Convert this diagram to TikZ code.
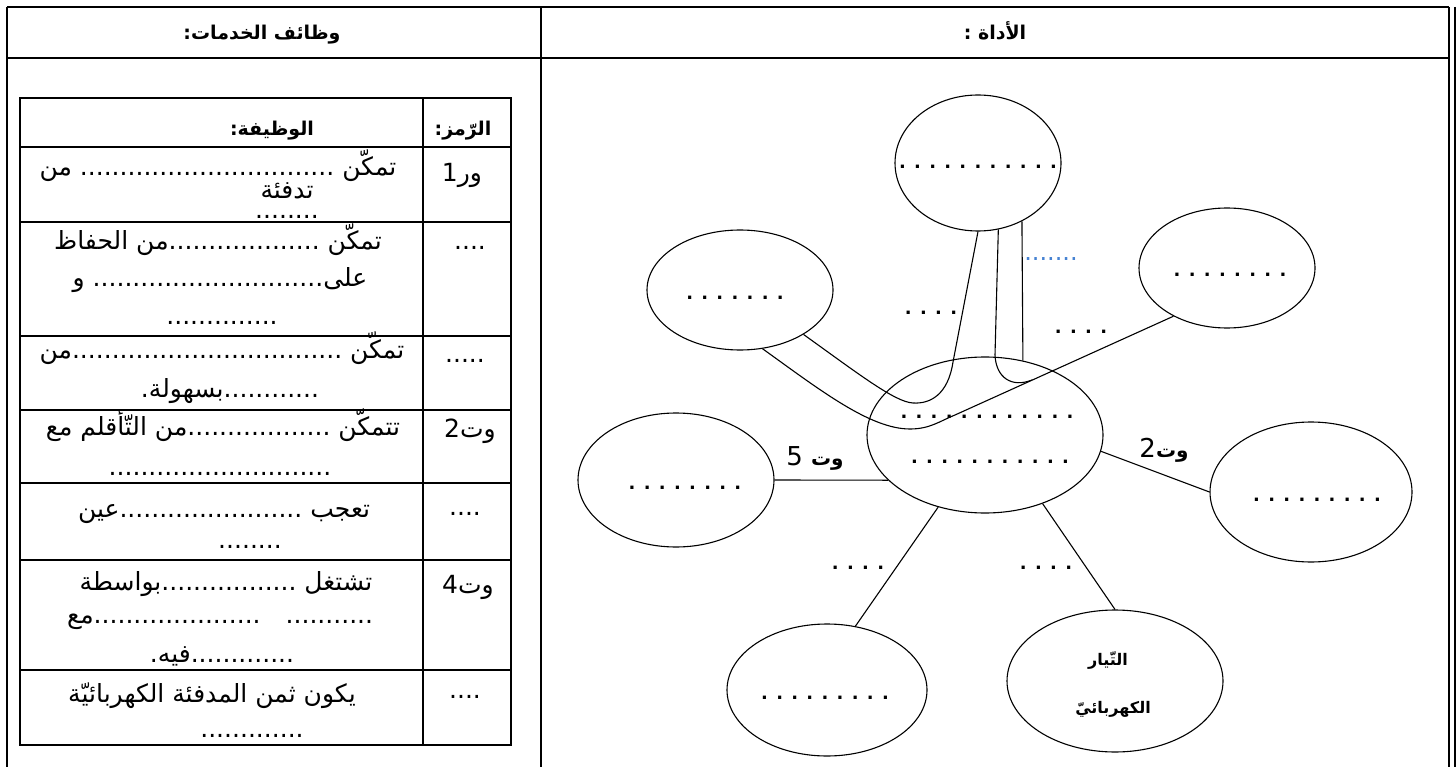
\documentclass[tikz,border=0pt]{standalone}
\usepackage{fontspec}
\usetikzlibrary{shapes.geometric}
\TeXXeTstate=1
\newfontfamily\arabicfont[Script=Arabic]{DejaVu Sans}
\definecolor{linkblue}{RGB}{70,130,210}

\begin{document}
\begin{tikzpicture}[x=1pt, y=-1pt,
    every node/.style={inner sep=0pt, anchor=base},
    rule/.style={line width=1.8pt},
    bub/.style={draw, ellipse, anchor=center, line width=1.1pt},
    wire/.style={line width=1.1pt},
    cell/.style={font=\arabicfont\fontsize{25}{29}\selectfont},
    head/.style={font=\arabicfont\bfseries\fontsize{19}{22}\selectfont},
    dotline/.style={font=\arabicfont\bfseries\fontsize{17.9}{22}\selectfont},
    lbl/.style={font=\arabicfont\fontsize{26}{30}\selectfont}]
        \useasboundingbox (0,0) rectangle (1456,767);
        % outer table
        \draw [rule] (7,7) -- (1449,7);
        \draw [rule] (7,58) -- (1449,58);
        \draw [rule] (7,7) -- (7,767);
        \draw [rule] (541,7) -- (541,767);
        \draw [rule] (1449,7) -- (1449,767);
        \draw [line width=1.4pt] (1455,7) -- (1455,767);
        \node [head] (hserv) at (262,40) {\beginR وظائف الخدمات\hbox{:}\endR};
        \node [head] (htool) at (995,40) {\beginR الأداة \hbox{:}\endR};
        % inner table
        \draw [rule] (20,98) rectangle (511,745);
        \draw [rule] (423,98) -- (423,745);
        \draw [rule] (20,147) -- (511,147);
        \draw [rule] (20,222) -- (511,222);
        \draw [rule] (20,336) -- (511,336);
        \draw [rule] (20,410) -- (511,410);
        \draw [rule] (20,483) -- (511,483);
        \draw [rule] (20,560) -- (511,560);
        \draw [rule] (20,670) -- (511,670);
        \node [head] (hfun) at (272,136) {\beginR\hbox{الوظيفة}\hbox{:}\endR};
        \node [head] (hcode) at (463,136) {\beginR\hbox{الرّمز}\hbox{:}\endR};
        \node [cell] (c1) at (462,182) {\beginR\hbox{ور}\hbox{1}\endR};
        \node [cell] (c2) at (470,250) {....};
        \node [cell] (c3) at (465,362) {.....};
        \node [cell] (c4) at (470,437) {\beginR\hbox{وت}\hbox{2}\endR};
        \node [cell] (c5) at (465,515) {....};
        \node [cell] (c6) at (468,593) {\beginR\hbox{وت}\hbox{4}\endR};
        \node [cell] (c7) at (465,698) {....};
        \node [cell] (r1a) at (218,176) {\beginR تمكّن \hbox{................................} من\endR};
        \node [cell, align=center, font=\arabicfont\fontsize{25}{20}\selectfont] (r1b) at (287,219) {تدفئة\\........};
        \node [cell] (r2a) at (218,250) {\beginR تمكّن \hbox{...................}من الحفاظ\endR};
        \node [cell] (r2b) at (220,287) {\beginR على\hbox{.............................} و\endR};
        \node [cell] (r2c) at (222,324) {..............};
        \node [cell] (r3a) at (222,358) {\beginR تمكّن \hbox{..................................}من\endR};
        \node [cell] (r3b) at (230,397) {\beginR\hbox{............}بسهولة\hbox{.}\endR};
        \node [cell] (r4a) at (223,435) {\beginR تتمكّن \hbox{..................}من التّأقلم مع\endR};
        \node [cell] (r4b) at (220,475) {............................};
        \node [cell] (r5a) at (224,517) {\beginR تعجب \hbox{.......................}عين\endR};
        \node [cell] (r5b) at (250,548) {........};
        \node [cell] (r6a) at (226,590) {\beginR تشتغل \hbox{.................}بواسطة\endR};
        \node [cell] (r6b) at (220,623) {\beginR\hbox{...........}\quad\hbox{.....................}مع\endR};
        \node [cell] (r6c) at (222,662) {\beginR\hbox{.............}فيه\hbox{.}\endR};
        \node [cell] (r7a) at (212,702) {\beginR يكون ثمن المدفئة الكهربائيّة\endR};
        \node [cell] (r7b) at (252,737) {.............};
        % the tool
        \node [bub, minimum width=166, minimum height=136] (top) at (978,163) {};
        \node [bub, minimum width=186, minimum height=120] (ul) at (740,290) {};
        \node [bub, minimum width=176, minimum height=120] (ur) at (1227,268) {};
        \node [bub, minimum width=236, minimum height=156] (ctr) at (985,435) {};
        \node [bub, minimum width=196, minimum height=134] (lft) at (676,480) {};
        \node [bub, minimum width=202, minimum height=140] (rgt) at (1311,492) {};
        \node [bub, minimum width=200, minimum height=132] (bl) at (827,690) {};
        \node [bub, minimum width=216, minimum height=142] (br) at (1115,681) {};
        \draw [wire] (ctr.-8) -- (rgt.west);
        \draw [wire] (lft.east) -- (ctr.205);
        \draw [wire] (ctr.237) -- (bl.66);
        \draw [wire] (ctr.-50) -- (br.north);
        \draw [wire] (top.-53) -- (ctr.63);
        \draw [wire] (ul.-69) .. controls (820,390) and (870,429) .. (910,429)
              .. controls (930,429) and (940,421) .. (955,415) -- (ur.222);
        \coordinate (mrg) at (1032,380);
        \draw [wire] (top.-73) -- (995,355) .. controls (996,378) and (1012,388) .. (mrg);
        \draw [wire] (ul.-35) .. controls (860,375) and (895,402) .. (913,403)
              .. controls (930,404) and (948,395) .. (953,362) -- (top.south);
        \node [dotline, fill=white, text height=10pt, text depth=8pt] (ttop) at (978,169) {. . . . . . . . . . .};
        \node [dotline] (tul) at (735,299) {. . . . . . .};
        \node [dotline] (tur) at (1230,277) {. . . . . . . .};
        \node [dotline] (tctr1) at (987,418) {. . . . . . . . . . . .};
        \node [dotline] (tctr2) at (990,463) {. . . . . . . . . . .};
        \node [dotline] (tlft) at (685,489) {. . . . . . . .};
        \node [dotline] (trgt) at (1317,501) {. . . . . . . . .};
        \node [dotline] (tbl) at (825,699) {. . . . . . . . .};
        \node [head, font=\arabicfont\bfseries\fontsize{16}{20}\selectfont] (tbr1) at (1108,665) {التّيار};
        \node [head, font=\arabicfont\bfseries\fontsize{16}{20}\selectfont] (tbr2) at (1113,713) {الكهربائيّ};
        \node [dotline] (q1) at (931,315) {. . . .};
        \node [dotline] (q2) at (1081,333) {. . . .};
        \node [dotline] (q3) at (858,569) {. . . .};
        \node [dotline] (q4) at (1046,569) {. . . .};
        \node [cell, text=linkblue, font=\arabicfont\fontsize{24}{26}\selectfont] (q5) at (1051,261) {.......};
        \node [lbl] (l5) at (815,465) {\beginR\hbox{\bfseries\fontsize{20}{24}\selectfont وت} \hbox{5}\endR};
        \node [lbl] (l2) at (1164,457) {\beginR\hbox{\bfseries\fontsize{20}{24}\selectfont وت}\hbox{2}\endR};
\end{tikzpicture}
\end{document}
